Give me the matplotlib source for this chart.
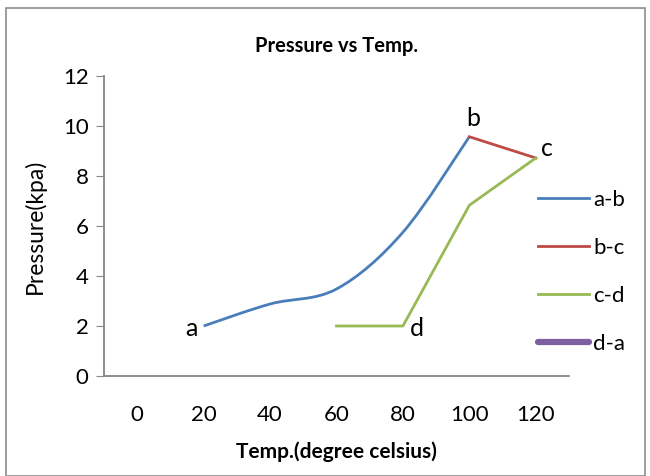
import matplotlib
matplotlib.use("Agg")
import matplotlib.pyplot as plt
from matplotlib.path import Path
from matplotlib.patches import PathPatch, Rectangle
import numpy as np

# data
ab_temp = [20, 40, 60, 80, 100]
ab_press = [2.0, 2.88, 3.48, 5.75, 9.57]
bc_temp = [100, 120]
bc_press = [9.57, 8.72]
cd_temp = [120, 100, 80, 60]
cd_press = [8.72, 6.83, 2.0, 2.0]
da_temp = []
da_press = []

point_names = ['a', 'b', 'c', 'd']
point_temp = [20, 100, 120, 80]
point_press = [2.0, 9.57, 8.72, 2.0]

x_ticks = [0, 20, 40, 60, 80, 100, 120]
y_ticks = [0, 2, 4, 6, 8, 10, 12]

plt.rcParams['font.family'] = ['Lato', 'DejaVu Sans']


def smooth_path(xs, ys, t=0.5):
    # excel-like smoothed line: catmull-rom turned into bezier segments
    pts = np.column_stack([xs, ys]).astype(float)
    verts = [pts[0]]
    codes = [Path.MOVETO]
    n = len(pts)
    for i in range(n - 1):
        p0 = pts[max(i - 1, 0)]
        p1 = pts[i]
        p2 = pts[i + 1]
        p3 = pts[min(i + 2, n - 1)]
        c1 = p1 + (p2 - p0) * t / 3
        c2 = p2 - (p3 - p1) * t / 3
        verts += [c1, c2, p2]
        codes += [Path.CURVE4] * 3
    return Path(verts, codes)


fig = plt.figure(figsize=(6.5, 4.76), dpi=100)
fig.patches.append(Rectangle((6 / 650, 0), 639 / 650, 1 - 8 / 476, transform=fig.transFigure,
                             fill=False, edgecolor='#8c8c8c', linewidth=1.2))
ax = fig.add_axes([104 / 650, 1 - 376 / 476, 465 / 650, 300 / 476])

ax.add_patch(PathPatch(smooth_path(ab_temp, ab_press), fill=False, edgecolor='#4a7ebb', linewidth=2))
ax.plot([], [], color='#4a7ebb', linewidth=2, label='a-b')
ax.plot(bc_temp, bc_press, color='#be4b48', linewidth=2, label='b-c')
ax.plot(cd_temp, cd_press, color='#98b954', linewidth=2, label='c-d')
ax.plot(da_temp, da_press, color='#7d60a0', linewidth=4.5, solid_capstyle='round', label='d-a')

offsets = {'a': (-9, -2), 'b': (3, 13), 'c': (8, 7), 'd': (10, -2)}
for name, xv, yv in zip(point_names, point_temp, point_press):
    dx, dy = offsets[name]
    ax.annotate(name, (xv, yv), xytext=(dx, dy), textcoords='offset points',
                ha='center', va='center', fontsize=18)

ax.set_xlim(-10, 130)
ax.set_ylim(0, 12)
ax.set_xticks(x_ticks)
ax.set_yticks(y_ticks)
ax.tick_params(axis='x', length=0, pad=21, labelsize=16)
ax.tick_params(axis='y', length=6, color='#868686', labelsize=16, pad=5)
for s in ['top', 'right']:
    ax.spines[s].set_visible(False)
for s in ['left', 'bottom']:
    ax.spines[s].set_color('#868686')
    ax.spines[s].set_linewidth(1.3)

ax.set_title('Pressure vs Temp.', fontsize=14.5, fontweight='bold', pad=17)
ax.set_xlabel('Temp.(degree celsius)', fontsize=15, fontweight='bold', labelpad=12)
ax.set_ylabel('Pressure(kpa)', fontsize=16.5, labelpad=12)

ax.legend(loc='center left', bbox_to_anchor=(0.933, 0.347), frameon=False, fontsize=16,
          handlelength=2.3, handletextpad=0.2, labelspacing=1.25, borderpad=0, borderaxespad=0)

fig.savefig('out.png', dpi=100)
